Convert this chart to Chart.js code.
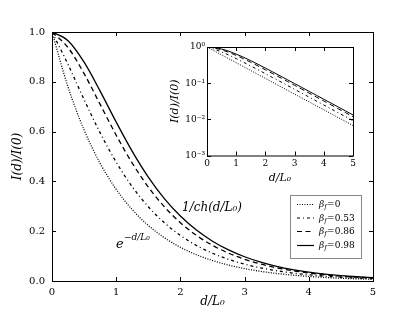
<!DOCTYPE html>
<html>
<head>
<meta charset="utf-8">
<script src="https://cdn.jsdelivr.net/npm/chart.js@4.4.0/dist/chart.umd.min.js"></script>
<style>
  body { margin: 0; background: #fff; }
  #caja { position: relative; width: 415px; height: 312px; }
  #principal { position: absolute; left: 0; top: 0; }
  #inserto { position: absolute; left: 160px; top: 36px; }
</style>
</head>
<body>
<div id="caja">
  <canvas id="principal" width="415" height="312"></canvas>
  <canvas id="inserto" width="210" height="150"></canvas>
</div>
<script>
// d/L0
const distancias = [0, 0.25, 0.5, 0.75, 1, 1.25, 1.5, 1.75, 2, 2.25, 2.5, 2.75, 3, 3.25, 3.5, 3.75, 4, 4.25, 4.5, 4.75, 5];
const betas = ['0', '0.53', '0.86', '0.98'];

// I(d)/I(0) para cada beta_f
const intensidadB0 = [1, 0.7788, 0.6065, 0.4724, 0.3679, 0.2865, 0.2231, 0.1738, 0.1353, 0.1054, 0.0821, 0.0639, 0.0498, 0.0388, 0.0302, 0.0235, 0.0183, 0.0143, 0.0111, 0.0087, 0.0067];
const intensidadB053 = [1, 0.8695, 0.7286, 0.5948, 0.4772, 0.3786, 0.2982, 0.2339, 0.1829, 0.1428, 0.1114, 0.0869, 0.0677, 0.0527, 0.0411, 0.0320, 0.0249, 0.0194, 0.0151, 0.0118, 0.0092];
const intensidadB086 = [1, 0.9374, 0.8329, 0.7093, 0.5856, 0.4733, 0.3773, 0.2981, 0.2342, 0.1834, 0.1433, 0.1118, 0.0872, 0.0680, 0.0529, 0.0412, 0.0321, 0.0250, 0.0195, 0.0152, 0.0118];
const intensidadB098 = [1, 0.9648, 0.8787, 0.7627, 0.6383, 0.5207, 0.4175, 0.3311, 0.2608, 0.2045, 0.1599, 0.1249, 0.0974, 0.0759, 0.0592, 0.0461, 0.0359, 0.0280, 0.0218, 0.0170, 0.0132];

const ticksLog = [0.001, 0.01, 0.1, 1];
const etiquetasLog = ['10⁻³', '10⁻²', '10⁻¹', '10⁰'];

const series = [intensidadB0, intensidadB053, intensidadB086, intensidadB098];
const trazos = [[1, 1.5], [3, 3, 1, 3], [5, 3.5], []];

Chart.defaults.font.family = "'DejaVu Serif', serif";
Chart.defaults.color = '#000';

function armarDatasets(ancho) {
  return series.map((s, i) => ({
    label: betas[i],
    data: distancias.map((d, j) => ({ x: d, y: s[j] })),
    borderColor: '#000',
    borderWidth: ancho,
    borderDash: trazos[i],
    pointRadius: 0,
    cubicInterpolationMode: 'monotone',
    fill: false
  }));
}

const sinGrilla = { display: false, drawTicks: false, tickLength: 0 };

// marco negro y marcas hacia adentro
const marco = {
  id: 'marco',
  afterDatasetsDraw(chart) {
    const { ctx, chartArea: a, scales } = chart;
    const largo = 4;
    ctx.save();
    ctx.strokeStyle = '#000';
    ctx.lineWidth = 1;
    ctx.setLineDash([]);
    ctx.beginPath();
    scales.x.ticks.forEach(t => {
      const px = Math.round(scales.x.getPixelForValue(t.value)) + 0.5;
      ctx.moveTo(px, a.bottom); ctx.lineTo(px, a.bottom - largo);
      ctx.moveTo(px, a.top); ctx.lineTo(px, a.top + largo);
    });
    scales.y.ticks.forEach(t => {
      const py = Math.round(scales.y.getPixelForValue(t.value)) + 0.5;
      ctx.moveTo(a.left, py); ctx.lineTo(a.left + largo, py);
      ctx.moveTo(a.right, py); ctx.lineTo(a.right - largo, py);
    });
    ctx.stroke();
    ctx.strokeRect(a.left + 0.5, a.top + 0.5, a.width, a.height);
    ctx.restore();
  }
};

// textos y leyenda del grafico principal
const anotaciones = {
  id: 'anotaciones',
  afterDraw(chart) {
    const ctx = chart.ctx;
    ctx.save();
    ctx.fillStyle = '#000';
    ctx.textBaseline = 'alphabetic';
    ctx.font = "italic 12px 'DejaVu Serif'";
    ctx.fillText('1/ch(d/L₀)', 182, 211);
    ctx.font = "italic 13px 'DejaVu Serif'";
    ctx.fillText('e', 116, 248);
    ctx.font = "italic 9px 'DejaVu Serif'";
    ctx.fillText('−d/L₀', 124, 240);

    // leyenda
    ctx.strokeStyle = '#888';
    ctx.lineWidth = 1;
    ctx.strokeRect(290.5, 195.5, 71, 63);
    const filas = [204, 217.5, 231, 245];
    chart.data.datasets.forEach((ds, i) => {
      const y = filas[i];
      ctx.strokeStyle = '#000';
      ctx.lineWidth = 1.2;
      ctx.setLineDash(ds.borderDash);
      ctx.beginPath();
      ctx.moveTo(297, y + 0.5);
      ctx.lineTo(314, y + 0.5);
      ctx.stroke();
      ctx.setLineDash([]);
      let x = 319;
      ctx.font = "italic 9px 'DejaVu Serif'";
      ctx.fillText('β', x, y + 3);
      x += ctx.measureText('β').width;
      ctx.font = "italic 6.5px 'DejaVu Serif'";
      ctx.fillText('f', x, y + 5);
      x += ctx.measureText('f').width + 0.5;
      ctx.font = "9px 'DejaVu Serif'";
      ctx.fillText('=' + ds.label, x, y + 3);
    });
    ctx.restore();
  }
};

new Chart(document.getElementById('principal'), {
  type: 'line',
  data: { datasets: armarDatasets(1.3) },
  options: {
    responsive: false,
    animation: false,
    layout: { padding: { top: 32, right: 42, left: 0, bottom: 0 } },
    plugins: { legend: { display: false }, tooltip: { enabled: false } },
    scales: {
      x: {
        type: 'linear', min: 0, max: 5,
        ticks: { stepSize: 1, padding: 5, font: { size: 10 } },
        grid: sinGrilla,
        border: { display: false },
        title: { display: true, text: 'd/L₀', font: { size: 12, style: 'italic' }, padding: { top: 0, bottom: 3 } },
        afterFit: s => { s.height = 31; }
      },
      y: {
        type: 'linear', min: 0, max: 1,
        ticks: { stepSize: 0.2, padding: 7, font: { size: 10 }, callback: v => v.toFixed(1) },
        grid: sinGrilla,
        border: { display: false },
        title: { display: true, text: 'I(d)/I(0)', font: { size: 12, style: 'italic' }, padding: { top: 11, bottom: 0 } },
        afterFit: s => { s.width = 52; }
      }
    }
  },
  plugins: [marco, anotaciones]
});

new Chart(document.getElementById('inserto'), {
  type: 'line',
  data: { datasets: armarDatasets(1) },
  options: {
    responsive: false,
    animation: false,
    layout: { padding: { top: 11, right: 17, left: 0, bottom: 0 } },
    plugins: { legend: { display: false }, tooltip: { enabled: false } },
    scales: {
      x: {
        type: 'linear', min: 0, max: 5,
        ticks: { stepSize: 1, padding: 3, font: { size: 9 } },
        grid: sinGrilla,
        border: { display: false },
        title: { display: true, text: 'd/L₀', font: { size: 11, style: 'italic' }, padding: { top: 0, bottom: 1 } },
        afterFit: s => { s.height = 30.5; }
      },
      y: {
        type: 'logarithmic', min: 0.001, max: 1,
        afterBuildTicks: s => { s.ticks = ticksLog.map(v => ({ value: v })); },
        ticks: { padding: 2, font: { size: 9 }, callback: v => etiquetasLog[ticksLog.indexOf(v)] },
        grid: sinGrilla,
        border: { display: false },
        title: { display: true, text: 'I(d)/I(0)', font: { size: 11, style: 'italic' }, padding: { top: 9, bottom: 0 } },
        afterFit: s => { s.width = 47; }
      }
    }
  },
  plugins: [marco]
});
</script>
</body>
</html>
